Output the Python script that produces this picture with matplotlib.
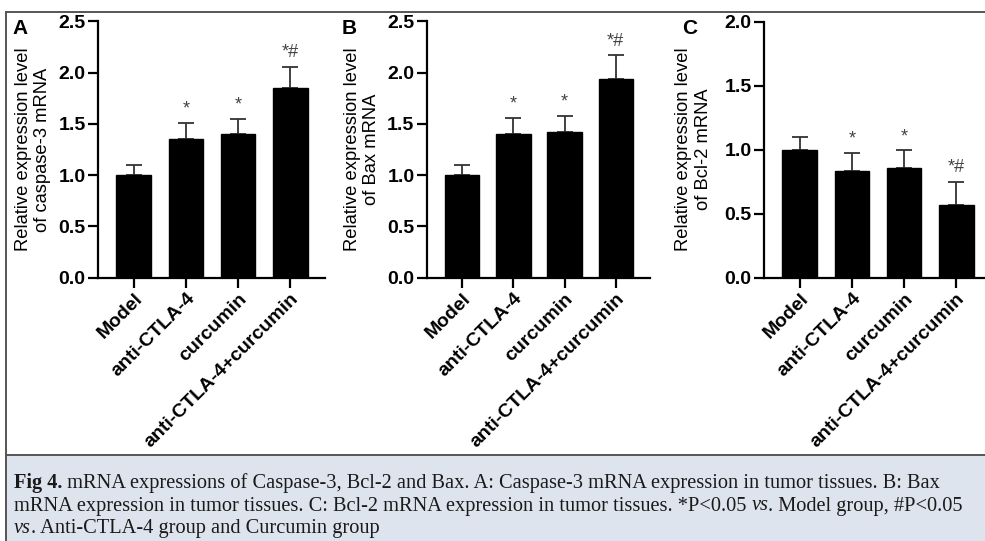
import matplotlib
matplotlib.use("Agg")
import matplotlib.pyplot as plt
from matplotlib.lines import Line2D
from matplotlib.patches import Rectangle

# data
groups = ['Model', 'anti-CTLA-4', 'curcumin', 'anti-CTLA-4+curcumin']
marks = ['', '*', '*', '*#']

casp3_mean = [1.00, 1.35, 1.40, 1.85]
casp3_err = [0.10, 0.16, 0.15, 0.21]

bax_mean = [1.00, 1.40, 1.42, 1.94]
bax_err = [0.10, 0.16, 0.16, 0.23]

bcl2_mean = [1.00, 0.83, 0.855, 0.57]
bcl2_err = [0.10, 0.145, 0.14, 0.18]

W, H = 985, 541
fig = plt.figure(figsize=(W / 100, H / 100), dpi=100)
plt.rcParams['font.family'] = ['Liberation Sans', 'DejaVu Sans']


def px(x, y):
    return x / W, 1 - y / H


panels = [
    # letter, means, errs, ylabel, ymax, axis left px, axis right px, letter x, label x
    ('A', casp3_mean, casp3_err, 'Relative expression level\nof caspase-3 mRNA', 2.5, 98, 325, 12, -0.205),
    ('B', bax_mean, bax_err, 'Relative expression level\nof Bax mRNA', 2.5, 427, 650, 342, -0.21),
    ('C', bcl2_mean, bcl2_err, 'Relative expression level\nof Bcl-2 mRNA', 2.0, 764, 991, 682, -0.23),
]

top_px, bot_px = 21.5, 277.5
for letter, mean, err, ylab, ymax, x0, x1, lx, labx in panels:
    ax = fig.add_axes([x0 / W, 1 - bot_px / H, (x1 - x0) / W, (bot_px - top_px) / H])
    xs = range(len(groups))
    ax.bar(xs, mean, width=0.67, color='black', edgecolor='black', zorder=2)
    ax.errorbar(xs, mean, yerr=[[0] * len(err), err], fmt='none', ecolor='#333333',
                elinewidth=1.3, capsize=6, capthick=1.3, zorder=1)
    for i in xs:
        if marks[i]:
            ax.text(i, mean[i] + err[i] + ymax * 0.02, marks[i], ha='center', va='bottom',
                    fontsize=13, color='#444444')
    ax.set_xlim(-0.69, 3.67)
    ax.set_ylim(0, ymax)
    ax.set_yticks([v * 0.5 for v in range(int(ymax / 0.5) + 1)])
    ax.set_yticklabels(['%.1f' % (v * 0.5) for v in range(int(ymax / 0.5) + 1)],
                       fontsize=14, fontweight='bold')
    ax.set_xticks(list(xs))
    ax.set_xticklabels(groups, rotation=45, ha='right', rotation_mode='anchor',
                       fontsize=14, fontweight='bold')
    ax.spines['top'].set_visible(False)
    ax.spines['right'].set_visible(False)
    ax.spines['left'].set_linewidth(1.6)
    ax.spines['bottom'].set_linewidth(1.6)
    ax.tick_params(length=7, width=1.6, pad=2)
    ax.set_ylabel(ylab, fontsize=13.2, linespacing=1.2)
    ax.yaxis.set_label_coords(labx, 0.5)
    fig.text(*px(lx, 19), letter, fontsize=15, fontweight='bold', va='top', ha='left')

# frame and caption box
fig.patches.append(Rectangle(px(6, H), (W - 6) / W, (H - 455) / H, transform=fig.transFigure,
                             facecolor='#dde4ee', edgecolor='none', zorder=0))
for (xa, ya), (xb, yb) in [((6, 12), (W, 12)), ((6, 12), (6, H)), ((6, 455), (W, 455))]:
    fig.add_artist(Line2D([xa / W, xb / W], [1 - ya / H, 1 - yb / H], color='#555555', lw=1.4))

cap_lines = [
    [('Fig 4.', 'bold', 'normal'),
     (' mRNA expressions of Caspase-3, Bcl-2 and Bax. A: Caspase-3 mRNA expression in tumor tissues. B: Bax',
      'normal', 'normal')],
    [('mRNA expression in tumor tissues. C: Bcl-2 mRNA expression in tumor tissues. *P<0.05 ', 'normal', 'normal'),
     ('vs', 'normal', 'italic'), ('. Model group, #P<0.05', 'normal', 'normal')],
    [('vs', 'normal', 'italic'), ('. Anti-CTLA-4 group and Curcumin group', 'normal', 'normal')],
]
renderer = fig.canvas.get_renderer()
for k, parts in enumerate(cap_lines):
    x = 14 / W
    y = 1 - (488 + k * 22.5) / H
    for s, wt, st in parts:
        t = fig.text(x, y, s, fontsize=14.7, fontweight=wt, fontstyle=st, va='baseline',
                     family=['Liberation Serif', 'DejaVu Serif'], color='#1a1a1a')
        x += t.get_window_extent(renderer).width / fig.bbox.width

fig.savefig('out.png', dpi=100)
